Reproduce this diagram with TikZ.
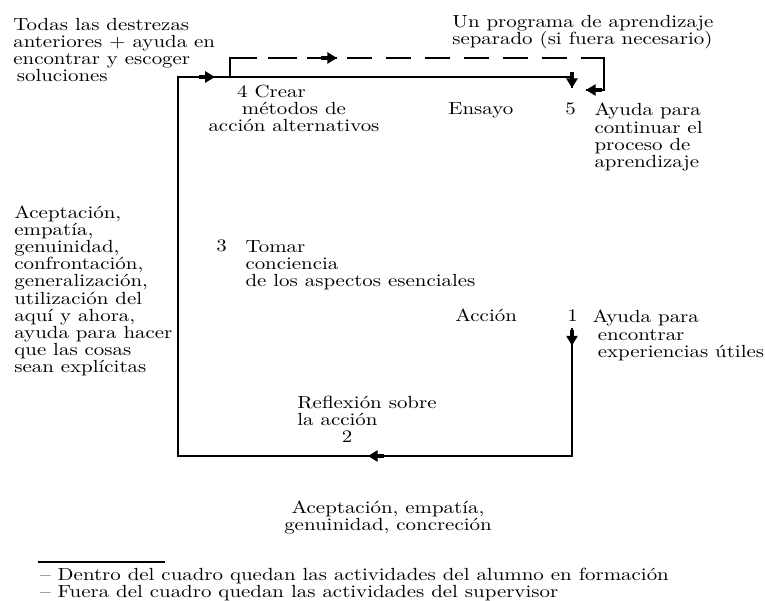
\documentclass[tikz,border=0pt]{standalone}
\usepackage{fontspec}
\setmainfont{lmroman10-regular.otf}[FakeStretch=1.19]
\usepackage{tikz}
\usetikzlibrary{arrows.meta,positioning,decorations.markings}

\newcommand{\diafont}{\fontsize{10}{9.8}\selectfont\lineskiplimit=-20pt\lineskip=0pt}
\newcommand{\tipmark}{\fill (-9pt,-1.2pt) rectangle (-3pt,1.2pt); \arrow{Triangle[length=5.5pt,width=6.5pt]}}

\begin{document}
\begin{tikzpicture}[
    x=0.02cm, y=-0.02cm,
    node distance=0.36cm,
    txt/.style={inner sep=0pt, align=left, anchor=base west, font=\diafont},
    ctxt/.style={txt, align=center, anchor=base},
    boxline/.style={line width=0.8pt},
    dashline/.style={boxline, dash pattern=on 0.92cm off 0.22cm on 0.58cm off 0.2cm on 0.6cm off 0.2cm on 0.5cm off 0.28cm on 0.5cm off 0.28cm on 0.5cm off 0.28cm on 0.5cm off 0.28cm on 0.5cm off 0.28cm on 0.5cm off 0.28cm on 2cm off 0.1cm},
    tipat/.style={postaction={decorate, decoration={markings, mark=at position #1 with {\tipmark}}}},
]
    \useasboundingbox (0,0) rectangle (765,601);

    % corners of the box
    \coordinate (c1) at (572,328);
    \coordinate (br) at (572,456);
    \coordinate (bl) at (178,456);
    \coordinate (tl) at (178,77);
    \coordinate (tr) at (572,77);
    \coordinate (c5) at (572,88);

    % dashed way round
    \coordinate (d0) at (230,77);
    \coordinate (d1) at (230,58);
    \coordinate (d2) at (604,58);
    \coordinate (d3) at (604,90);
    \coordinate (d4) at (586,90);

    \draw [boxline, tipat=0.35cm, tipat=6.64cm, tipat=18.76cm, tipat=1] (c1) -- (br) -- (bl) -- (tl) -- (tr) -- (c5);
    \draw [dashline, tipat=2.52cm, tipat=1] (d0) -- (d1) -- (d2) -- (d3) -- (d4);

    % outside the box (supervisor); base = last line
    \node [txt] (todas) at (13,82) {Todas las destrezas\\anteriores + ayuda en\\encontrar y escoger\\\hspace*{2pt}soluciones};
    \node [txt] (programa) at (452,45) {Un programa de aprendizaje\\separado (si fuera necesario)};
    \node [txt] (acept) at (14,373) {Aceptación,\\empatía,\\genuinidad,\\confrontación,\\generalización,\\utilización del\\aquí y ahora,\\ayuda para hacer\\que las cosas\\sean explícitas};
    \node [ctxt] (acept2) at (388,531) {Aceptación, empatía,\\genuinidad, concreción};

    % inside the box (alumno)
    \node [ctxt] (crear) at (294,132) {4 Crear\hspace*{0.9cm}\\métodos de\\acción alternativos};
    \node [txt] (ensayo) at (448,115) {Ensayo};
    \node [txt] (n5) at (565,115) {5};
    \node [txt, right=of n5.north east, anchor=north west] (ayuda5) {Ayuda para\\continuar el\\proceso de\\aprendizaje};
    \node [txt] (n3) at (216,252) {3};
    \node [txt, right=of n3.north east, anchor=north west] (tomar) {Tomar\\conciencia\\de los aspectos esenciales};
    \node [txt] (accion) at (455,322) {Acción};
    \node [txt] (n1) at (567,322) {1};
    \node [txt, right=0.28cm of n1.north east, anchor=north west] (ayuda1) {Ayuda para\\\hspace*{3pt}encontrar\\\hspace*{3pt}experiencias útiles};
    \node [txt] (reflex) at (297,426) {Reflexión sobre\\la acción};
    \node [txt, anchor=base] (n2) at (347,443) {2};

    % notes
    \coordinate (r0) at (38,562);
    \coordinate (r1) at (165,562);
    \draw [line width=0.6pt] (r0) -- (r1);
    \node [txt] (nota1) at (40,581) {-- Dentro del cuadro quedan las actividades del alumno en formación};
    \node [txt] (nota2) at (40,598) {-- Fuera del cuadro quedan las actividades del supervisor};

\end{tikzpicture}
\end{document}
